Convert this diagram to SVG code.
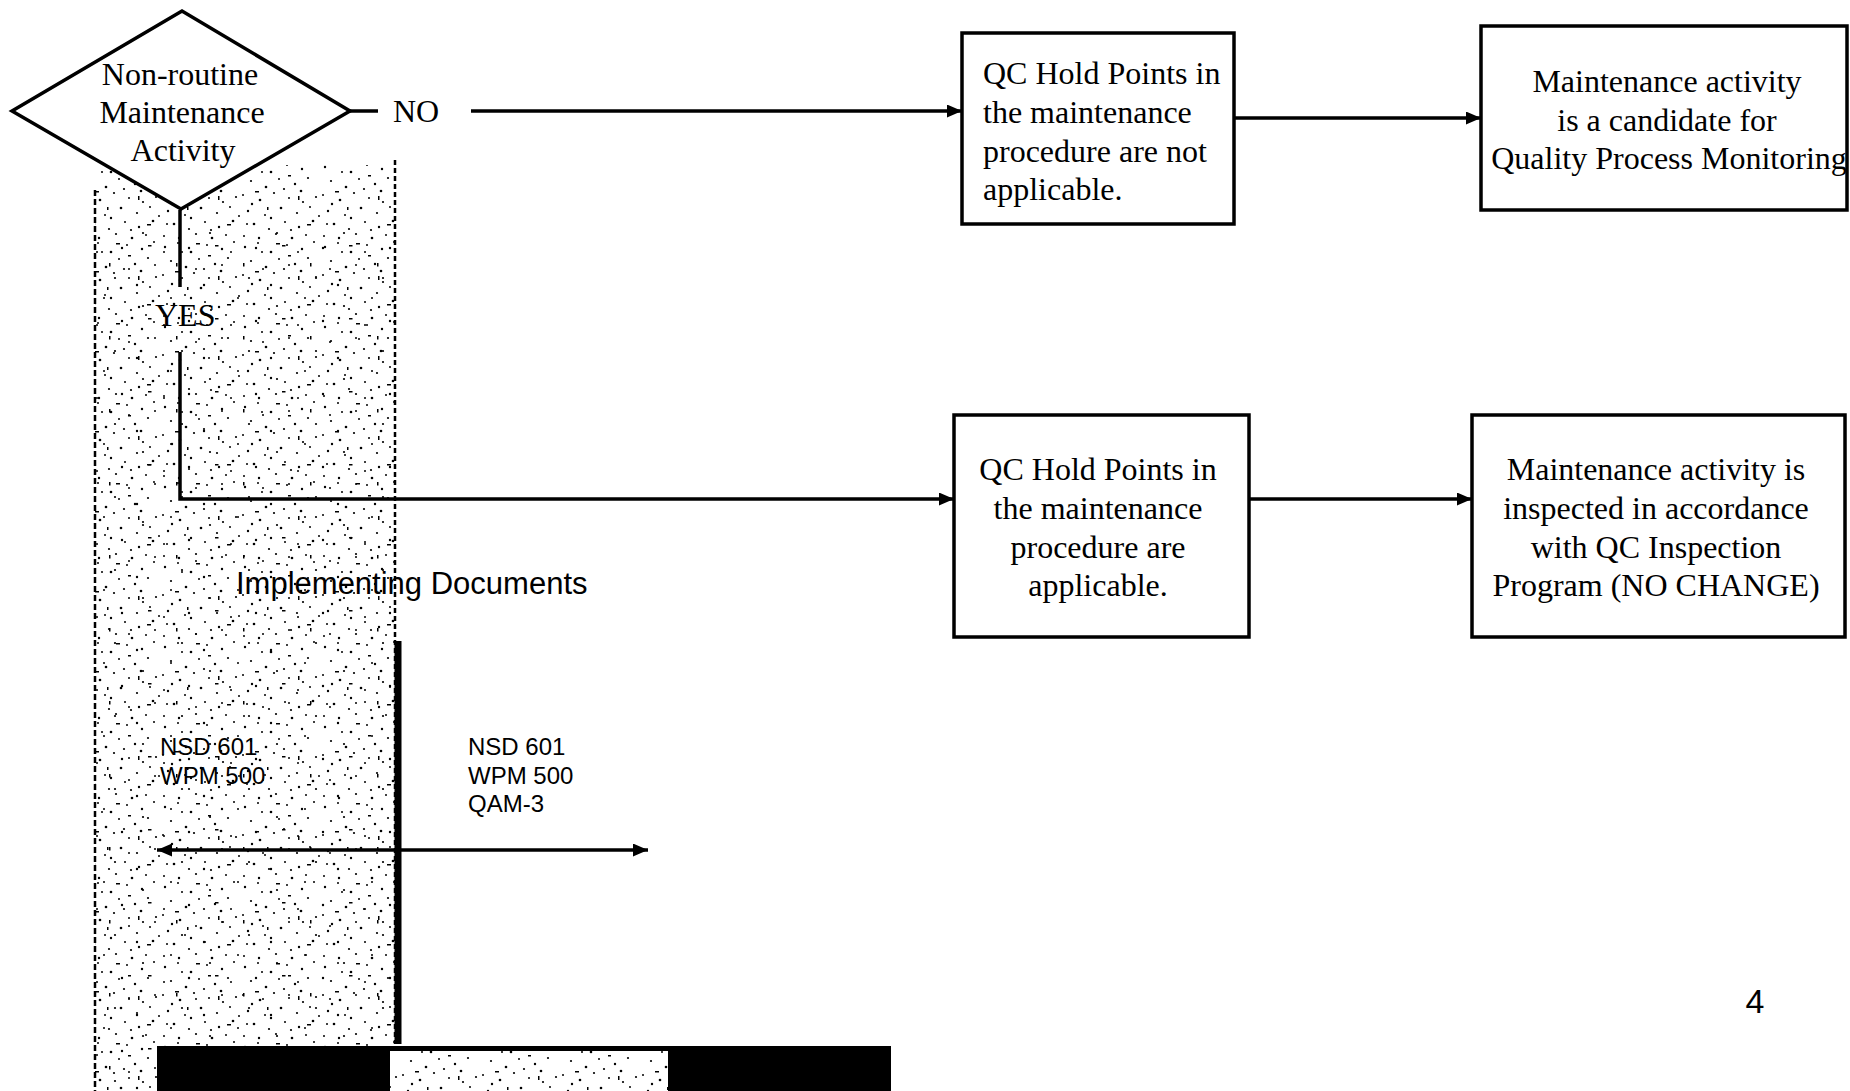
<svg xmlns="http://www.w3.org/2000/svg" width="1850" height="1091" viewBox="0 0 1850 1091">
<style>
.serif{font-family:"Liberation Serif","Times New Roman",serif;font-size:32px;fill:#000}
.sans{font-family:"Liberation Sans",Arial,sans-serif;fill:#000}
.box{fill:#fff;stroke:#000;stroke-width:3.5}
.conn{fill:none;stroke:#000;stroke-width:3.5}
</style>
<defs>
<marker id="arr" markerUnits="userSpaceOnUse" markerWidth="16" markerHeight="14" refX="15" refY="6.5" orient="auto-start-reverse">
<path d="M0,0 L15,6.5 L0,13 Z" fill="#000"/>
</marker>
<pattern id="stip" patternUnits="userSpaceOnUse" width="80" height="80">
<g fill="#000">
<circle cx="5" cy="7" r="1.2"/><circle cx="18" cy="3" r="1"/><circle cx="31" cy="12" r="1.3"/><circle cx="47" cy="5" r="1"/><circle cx="62" cy="9" r="1.2"/><circle cx="74" cy="2" r="1"/>
<circle cx="11" cy="21" r="1.1"/><circle cx="26" cy="27" r="1.3"/><circle cx="39" cy="19" r="1"/><circle cx="55" cy="24" r="1.2"/><circle cx="68" cy="18" r="1.1"/>
<circle cx="3" cy="35" r="1"/><circle cx="20" cy="40" r="1.3"/><circle cx="34" cy="33" r="1.1"/><circle cx="49" cy="38" r="1"/><circle cx="61" cy="31" r="1.3"/><circle cx="76" cy="37" r="1.1"/>
<circle cx="8" cy="51" r="1.2"/><circle cx="25" cy="55" r="1"/><circle cx="41" cy="48" r="1.3"/><circle cx="57" cy="53" r="1.1"/><circle cx="70" cy="47" r="1"/>
<circle cx="14" cy="64" r="1.3"/><circle cx="29" cy="69" r="1.1"/><circle cx="45" cy="62" r="1"/><circle cx="59" cy="67" r="1.2"/><circle cx="73" cy="61" r="1.3"/>
<circle cx="4" cy="76" r="1"/><circle cx="19" cy="78" r="1.2"/><circle cx="36" cy="74" r="1.1"/><circle cx="52" cy="78" r="1.3"/><circle cx="66" cy="75" r="1"/>
<circle cx="44" cy="29" r="1.1"/><circle cx="12" cy="44" r="1.2"/><circle cx="79" cy="56" r="1"/><circle cx="31" cy="58" r="1.2"/><circle cx="63" cy="42" r="1.1"/><circle cx="22" cy="12" r="1"/><circle cx="51" cy="70" r="1.1"/><circle cx="7" cy="64" r="1"/>
<rect x="36" y="3" width="4" height="1.5"/><rect x="58" y="36" width="1.5" height="4"/><rect x="15" y="31" width="4" height="1.5"/><rect x="67" y="64" width="4" height="1.5"/><rect x="27" y="47" width="1.5" height="3"/><rect x="48" y="15" width="3" height="1.5"/>
</g>
</pattern>
<pattern id="stip2" patternUnits="userSpaceOnUse" width="67" height="73">
<g fill="#000">
<circle cx="9" cy="14" r="1.1"/><circle cx="37" cy="6" r="1"/><circle cx="55" cy="29" r="1.2"/><circle cx="21" cy="46" r="1"/><circle cx="48" cy="59" r="1.1"/><circle cx="3" cy="66" r="1.2"/><circle cx="30" cy="33" r="1"/><circle cx="62" cy="50" r="1"/>
<rect x="14" y="26" width="3.5" height="1.5"/><rect x="42" y="44" width="1.5" height="3.5"/>
</g>
</pattern>
</defs>

<g id="stipple-band">
<rect x="95" y="165" width="300" height="926" fill="url(#stip)"/>
<rect x="95" y="230" width="300" height="861" fill="url(#stip2)"/>
<line x1="95" y1="190" x2="95" y2="1091" stroke="#000" stroke-width="2.5" stroke-dasharray="6 3"/>
<line x1="395" y1="160" x2="395" y2="1044" stroke="#000" stroke-width="2.5" stroke-dasharray="5 3"/>
</g>

<g id="connectors">
<line class="conn" x1="350" y1="111" x2="378" y2="111"/>
<line class="conn" x1="471" y1="111" x2="962" y2="111" marker-end="url(#arr)"/>
<line class="conn" x1="1234" y1="118" x2="1481" y2="118" marker-end="url(#arr)"/>
<line class="conn" x1="180" y1="210" x2="180" y2="287"/>
<path class="conn" d="M180,352 L180,499 L954,499" marker-end="url(#arr)"/>
<line class="conn" x1="1249" y1="499" x2="1472" y2="499" marker-end="url(#arr)"/>
<line class="conn" x1="157" y1="850" x2="648" y2="850" marker-start="url(#arr)" marker-end="url(#arr)"/>
<line x1="398" y1="641" x2="398" y2="1044" stroke="#000" stroke-width="7"/>
</g>

<g id="decision">
<polygon points="182,11 12,111 181,209 350,111" fill="#fff" stroke="#000" stroke-width="3.5"/>
<text class="serif" text-anchor="middle" x="180" y="85">Non-routine</text>
<text class="serif" text-anchor="middle" x="182" y="123">Maintenance</text>
<text class="serif" text-anchor="middle" x="183" y="161">Activity</text>
</g>

<g id="label-no"><text class="serif" x="393" y="122">NO</text></g>
<g id="label-yes"><text class="serif" x="155" y="326">YES</text></g>

<g id="box-not-applicable">
<rect class="box" x="962" y="33" width="272" height="191"/>
<text class="serif" x="983" y="84">QC Hold Points in</text>
<text class="serif" x="983" y="123">the maintenance</text>
<text class="serif" x="983" y="162">procedure are not</text>
<text class="serif" x="983" y="200">applicable.</text>
</g>

<g id="box-candidate">
<rect class="box" x="1481" y="26" width="366" height="184"/>
<text class="serif" text-anchor="middle" x="1667" y="92">Maintenance activity</text>
<text class="serif" text-anchor="middle" x="1667" y="131">is a candidate for</text>
<text class="serif" text-anchor="middle" x="1669" y="169">Quality Process Monitoring</text>
</g>

<g id="box-applicable">
<rect class="box" x="954" y="415" width="295" height="222"/>
<text class="serif" text-anchor="middle" x="1098" y="480">QC Hold Points in</text>
<text class="serif" text-anchor="middle" x="1098" y="519">the maintenance</text>
<text class="serif" text-anchor="middle" x="1098" y="558">procedure are</text>
<text class="serif" text-anchor="middle" x="1098" y="596">applicable.</text>
</g>

<g id="box-inspected">
<rect class="box" x="1472" y="415" width="373" height="222"/>
<text class="serif" text-anchor="middle" x="1656" y="480">Maintenance activity is</text>
<text class="serif" text-anchor="middle" x="1656" y="519">inspected in accordance</text>
<text class="serif" text-anchor="middle" x="1656" y="558">with QC Inspection</text>
<text class="serif" text-anchor="middle" x="1656" y="596">Program (NO CHANGE)</text>
</g>

<g id="implementing-documents">
<text class="sans" x="236" y="594" font-size="31">Implementing Documents</text>
</g>

<g id="docs-left">
<text class="sans" x="160" y="755" font-size="24">NSD 601</text>
<text class="sans" x="160" y="784" font-size="24">WPM 500</text>
</g>

<g id="docs-right">
<text class="sans" x="468" y="755" font-size="24">NSD 601</text>
<text class="sans" x="468" y="784" font-size="24">WPM 500</text>
<text class="sans" x="468" y="812" font-size="24">QAM-3</text>
</g>

<g id="bottom-bar">
<rect x="157" y="1046" width="734" height="45" fill="#000"/>
<rect x="390" y="1051" width="278" height="40" fill="#fff"/>
<rect x="390" y="1051" width="278" height="40" fill="url(#stip)"/>
</g>

<g id="page-number">
<text class="sans" x="1755" y="1013" font-size="34" text-anchor="middle">4</text>
</g>
</svg>
